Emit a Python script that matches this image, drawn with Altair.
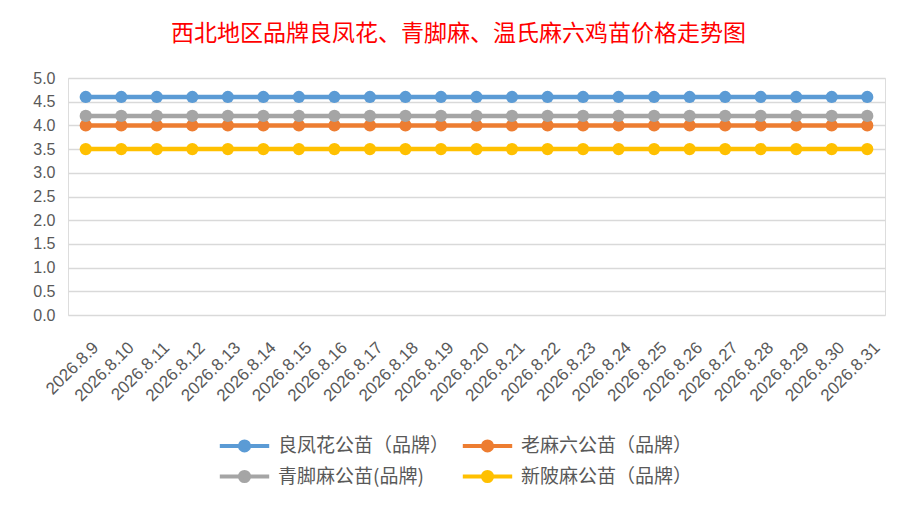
import altair as alt
import pandas as pd

dates = [
    "2026.8.9", "2026.8.10", "2026.8.11", "2026.8.12", "2026.8.13", "2026.8.14",
    "2026.8.15", "2026.8.16", "2026.8.17", "2026.8.18", "2026.8.19", "2026.8.20",
    "2026.8.21", "2026.8.22", "2026.8.23", "2026.8.24", "2026.8.25", "2026.8.26",
    "2026.8.27", "2026.8.28", "2026.8.29", "2026.8.30", "2026.8.31",
]

# prices (yuan per bird), one per date
liangfenghua = [4.6, 4.6, 4.6, 4.6, 4.6, 4.6, 4.6, 4.6, 4.6, 4.6, 4.6, 4.6,
                4.6, 4.6, 4.6, 4.6, 4.6, 4.6, 4.6, 4.6, 4.6, 4.6, 4.6]
laomaliu = [4.0, 4.0, 4.0, 4.0, 4.0, 4.0, 4.0, 4.0, 4.0, 4.0, 4.0, 4.0,
            4.0, 4.0, 4.0, 4.0, 4.0, 4.0, 4.0, 4.0, 4.0, 4.0, 4.0]
qingjiaoma = [4.2, 4.2, 4.2, 4.2, 4.2, 4.2, 4.2, 4.2, 4.2, 4.2, 4.2, 4.2,
              4.2, 4.2, 4.2, 4.2, 4.2, 4.2, 4.2, 4.2, 4.2, 4.2, 4.2]
xinpima = [3.5, 3.5, 3.5, 3.5, 3.5, 3.5, 3.5, 3.5, 3.5, 3.5, 3.5, 3.5,
           3.5, 3.5, 3.5, 3.5, 3.5, 3.5, 3.5, 3.5, 3.5, 3.5, 3.5]

series_names = ["良凤花公苗（品牌）", "老麻六公苗（品牌）", "青脚麻公苗(品牌)", "新陂麻公苗（品牌）"]
series_colors = ["#5B9BD5", "#ED7D31", "#A5A5A5", "#FFC000"]
y_ticks = [0.0, 0.5, 1.0, 1.5, 2.0, 2.5, 3.0, 3.5, 4.0, 4.5, 5.0]

rows = []
for name, values in zip(series_names, [liangfenghua, laomaliu, qingjiaoma, xinpima]):
    for d, v in zip(dates, values):
        rows.append({"date": d, "price": v, "series": name})
df = pd.DataFrame(rows)

# line with a dot in the middle, like the spreadsheet legend
legend_symbol = "M-3.8,0L3.8,0M-0.7,0A0.7,0.7 0 1,0 0.7,0A0.7,0.7 0 1,0 -0.7,0Z"

color = alt.Color(
    "series:N",
    scale=alt.Scale(domain=series_names, range=series_colors),
    legend=alt.Legend(
        title=None, orient="none", legendX=167, legendY=358, columns=2,
        direction="horizontal", padding=0,
        symbolType=legend_symbol, symbolSize=169, symbolStrokeWidth=4,
        labelOffset=24, labelFontSize=19, labelColor="#595959",
        labelFont="Noto Sans CJK SC", columnPadding=4, rowPadding=4,
        labelLimit=300,
    ),
)

x = alt.X(
    "date:N", sort=dates,
    axis=alt.Axis(title=None, labelAngle=-45, labelAlign="right", labelBaseline="top",
                  labelFontSize=17, labelColor="#595959", labelFont="Liberation Sans",
                  labelPadding=24, labelOffset=4, ticks=False, domain=False, grid=False,
                  labelOverlap=False),
)
y = alt.Y(
    "price:Q", scale=alt.Scale(domain=[0, 5]),
    axis=alt.Axis(title=None, values=y_ticks, format=".1f", domain=False, ticks=False,
                  gridColor="#D9D9D9", gridWidth=1.5, labelFontSize=16, labelColor="#595959",
                  labelFont="Liberation Sans", labelPadding=13),
)

base = alt.Chart(df).encode(x=x, y=y, color=color, detail="series:N")
lines = base.mark_line(strokeWidth=4.5)
points = base.mark_point(filled=True, size=150, opacity=1)

chart = (
    alt.layer(lines, points)
    .properties(
        width=817, height=237,
        autosize=alt.AutoSizeParams(type="none"),
        padding={"left": 60, "top": 70, "right": 20, "bottom": 188},
        title=alt.TitleParams(
            "西北地区品牌良凤花、青脚麻、温氏麻六鸡苗价格走势图",
            color="#FF0000", fontSize=23, font="Noto Sans CJK SC", fontWeight="normal",
            anchor="middle", dx=-18, offset=24,
        ),
    )
    .configure_view(stroke=None)
    .configure(background="white")
)

chart.save("out.html", embed_options={"renderer": "svg", "actions": False})
